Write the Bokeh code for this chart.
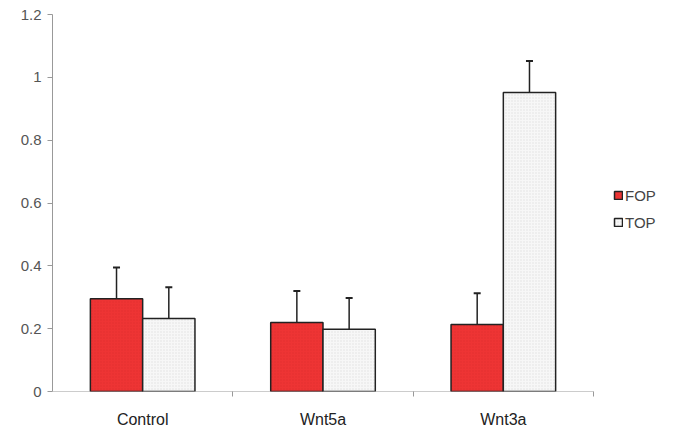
from bokeh.plotting import figure
from bokeh.models import (ColumnDataSource, FixedTicker, Whisker, TeeHead, Legend, LegendItem, Range1d)
from bokeh.embed import file_html
from bokeh.resources import INLINE

categories = ["Control", "Wnt5a", "Wnt3a"]
fop_values = [0.295, 0.22, 0.213]
fop_errors = [0.10, 0.10, 0.10]
top_values = [0.232, 0.198, 0.952]
top_errors = [0.10, 0.10, 0.10]
y_ticks = [0, 0.2, 0.4, 0.6, 0.8, 1.0, 1.2]
y_labels = ["0", "0.2", "0.4", "0.6", "0.8", "1", "1.2"]

n = len(categories)
centers = [i + 0.5 for i in range(n)]
bw = 0.29
fop_x = [c - bw / 2 for c in centers]
top_x = [c + bw / 2 for c in centers]

fop_src = ColumnDataSource(dict(x=fop_x, top=fop_values,
                                upper=[v + e for v, e in zip(fop_values, fop_errors)]))
top_src = ColumnDataSource(dict(x=top_x, top=top_values,
                                upper=[v + e for v, e in zip(top_values, top_errors)]))

FRAME_W = 626       # frame spans to the right edge so the legend fits inside it
AXIS_W = 541        # pixel width occupied by the category axis
p = figure(frame_width=FRAME_W, frame_height=377, output_backend="svg", toolbar_location=None,
           x_range=Range1d(0, n * FRAME_W / AXIS_W), y_range=Range1d(0, 1.2),
           min_border_left=52, min_border_top=14, min_border_bottom=46, min_border_right=0)
p.outline_line_color = None
p.xgrid.grid_line_color = None
p.ygrid.grid_line_color = None
p.background_fill_color = "white"

# category axis baseline (only as wide as the categories)
p.segment(x0=[0], x1=[n], y0=[0], y1=[0], line_color="#999999", line_width=1)

r_fop = p.vbar(x="x", top="top", bottom=0, width=bw, source=fop_src,
               fill_color="#ee3434", line_color="#222222", line_width=1.5,
               hatch_pattern="dot", hatch_color="#b81818", hatch_alpha=0.25, hatch_scale=3)
r_top = p.vbar(x="x", top="top", bottom=0, width=bw, source=top_src,
               fill_color="#f7f7f7", line_color="#222222", line_width=1.5,
               hatch_pattern="dot", hatch_color="#bbbbbb", hatch_alpha=0.35, hatch_scale=3)

for src in (fop_src, top_src):
    w = Whisker(source=src, base="x", lower="top", upper="upper",
                line_color="#222222", line_width=1.5,
                upper_head=TeeHead(size=7, line_color="#222222", line_width=2),
                lower_head=None)
    p.add_layout(w)

# y axis
p.yaxis.ticker = FixedTicker(ticks=y_ticks)
p.yaxis.major_label_overrides = {t: l for t, l in zip(y_ticks, y_labels)}
p.yaxis.axis_line_color = "#999999"
p.yaxis.major_tick_line_color = "#999999"
p.yaxis.major_tick_out = 5
p.yaxis.major_tick_in = 0
p.yaxis.minor_tick_line_color = None
p.yaxis.major_label_text_font = "Liberation Sans"
p.yaxis.major_label_text_font_size = "15px"
p.yaxis.major_label_text_color = "#555555"
p.yaxis.major_label_standoff = 6

# x axis
p.xaxis.ticker = FixedTicker(ticks=centers, minor_ticks=[i + 1 for i in range(n)])
p.xaxis.major_label_overrides = {c: nm for c, nm in zip(centers, categories)}
p.xaxis.axis_line_color = None
p.xaxis.major_tick_line_color = None
p.xaxis.minor_tick_line_color = "#999999"
p.xaxis.minor_tick_out = 5
p.xaxis.minor_tick_in = 0
p.xaxis.major_label_text_font = "Liberation Sans"
p.xaxis.major_label_text_font_size = "16px"
p.xaxis.major_label_text_color = "#222222"
p.xaxis.major_label_standoff = 13

legend = Legend(items=[LegendItem(label="FOP", renderers=[r_fop]),
                       LegendItem(label="TOP", renderers=[r_top])],
                location=(561, 160), border_line_color=None, background_fill_alpha=0,
                glyph_width=10, glyph_height=10, label_text_font="Liberation Sans",
                label_text_font_size="15px", label_text_color="#444444",
                label_standoff=2, spacing=9, padding=0, margin=0, label_height=18)
p.add_layout(legend, "center")

open("out.html", "w").write(file_html(p, INLINE))
